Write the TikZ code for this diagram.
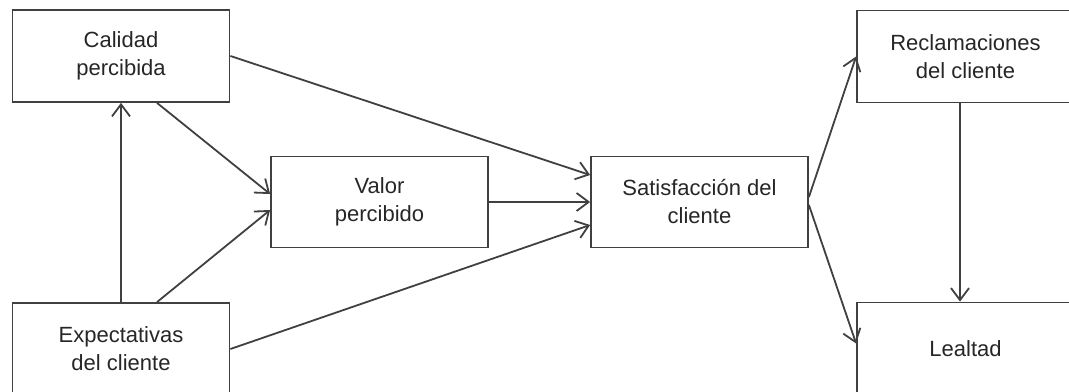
\documentclass[tikz,border=0pt]{standalone}
\usepackage{fontspec}
\setmainfont{Liberation Sans}
\usepackage{tikz}
\usetikzlibrary{arrows.meta}
\usetikzlibrary{calc}

\tikzset{
  caja/.style={draw=black!75, line width=0.9pt, rectangle, inner sep=0pt, align=center,
    minimum width=108.5pt, minimum height=46pt, text=black!85,
    font=\fontsize{11}{14}\selectfont},
  flecha/.style={draw=black!75, line width=0.9pt, -{Straight Barb[length=6pt,width=9pt]}}
}

\begin{document}
\begin{tikzpicture}[x=0.5pt, y=-0.5pt]
    \useasboundingbox (0,0) rectangle (1069,391);
    \clip (0,0) rectangle (1069,391);

    % 绘制方框
    \node[caja] (cal) at (121,56) {Calidad\\percibida};
    \node[caja] (exp) at (121,349) {Expectativas\\del cliente};
    \node[caja, minimum height=45.5pt] (val) at (379.5,202) {Valor\\percibido};
    \node[caja, minimum height=45.5pt] (sat) at (699.5,202) {Satisfacción del\\cliente};
    \node[caja] (rec) at (965.5,56.5) {Reclamaciones\\del cliente};
    \node[caja] (lea) at (965.5,348.5) {Lealtad};

    % 绘制箭头
    \draw[flecha] (exp) -- (cal);
    \draw[flecha] ($(cal.south)+(36,0)$) -- ($(val.west)+(0,-8)$);
    \draw[flecha] ($(exp.north)+(36,0)$) -- ($(val.west)+(0,8)$);
    \draw[flecha] (cal.east) -- ($(sat.west)+(0,-27)$);
    \draw[flecha] (val.east) -- (sat.west);
    \draw[flecha] (exp.east) -- ($(sat.west)+(0,23)$);
    \draw[flecha] ($(sat.east)+(0,-5)$) -- (rec.west);
    \draw[flecha] ($(sat.east)+(0,3)$) -- ($(lea.west)+(0,-5)$);
    \draw[flecha] ($(rec.south)+(-5.5,0)$) -- ($(lea.north)+(-5.5,0)$);
\end{tikzpicture}
\end{document}
